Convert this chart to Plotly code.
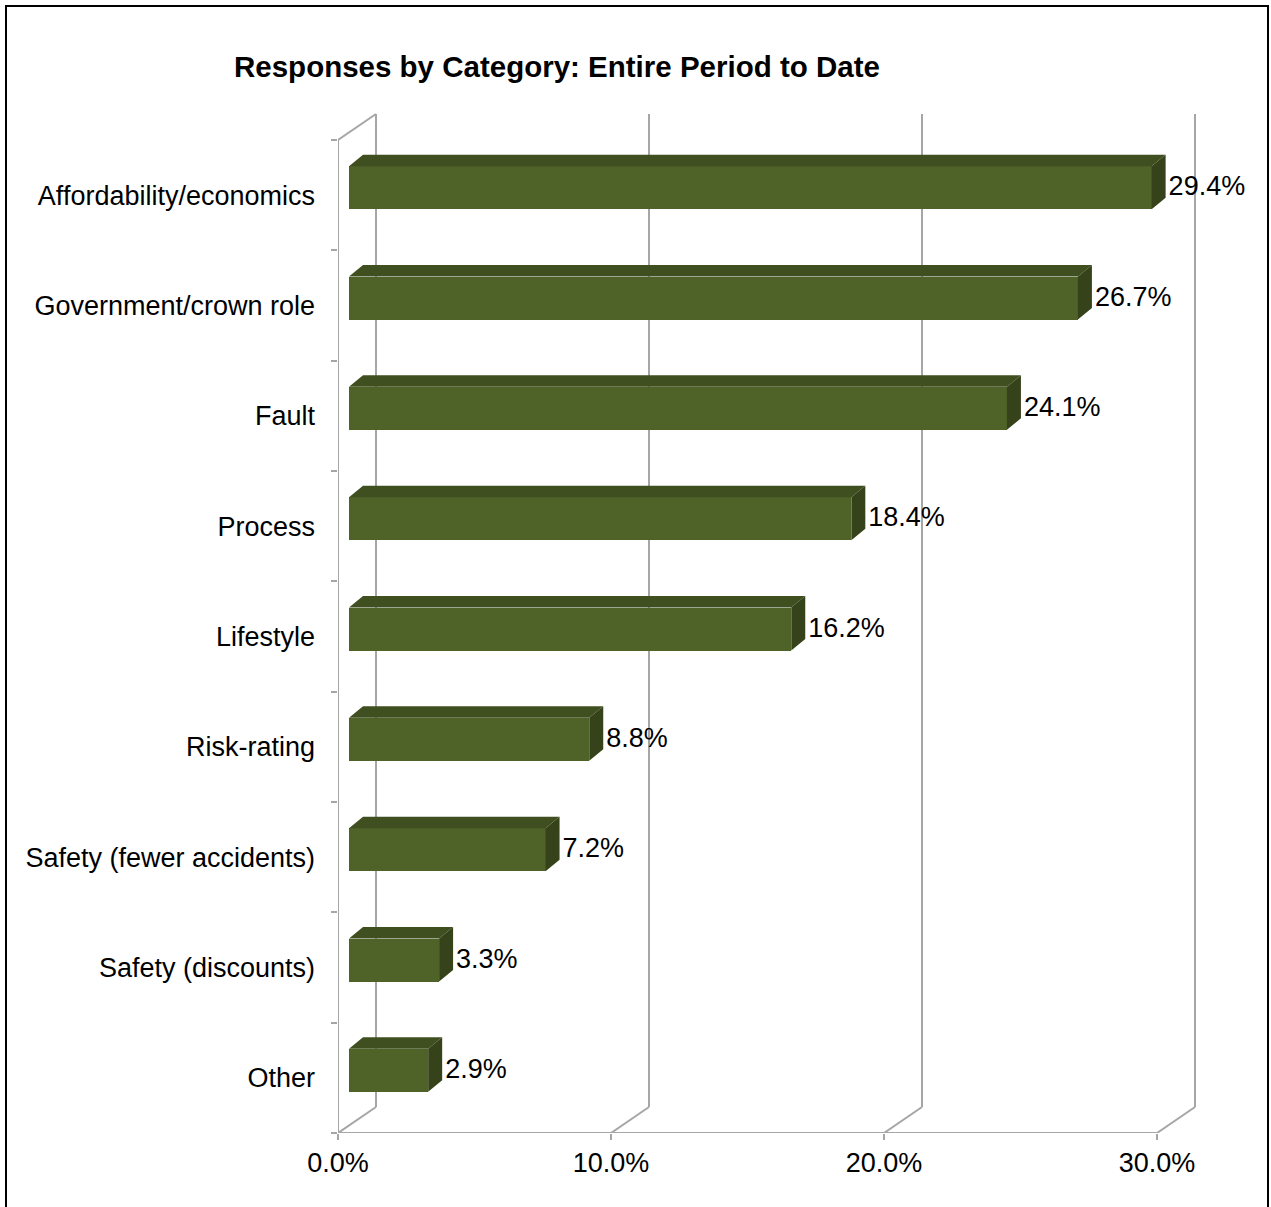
import plotly.graph_objects as go

# ---- data ----
categories = ["Other", "Safety (discounts)", "Safety (fewer accidents)", "Risk-rating",
              "Lifestyle", "Process", "Fault", "Government/crown role", "Affordability/economics"]
values = [2.9, 3.3, 7.2, 8.8, 16.2, 18.4, 24.1, 26.7, 29.4]
x_ticks = [0, 10, 20, 30]
x_tick_labels = ["0.0%", "10.0%", "20.0%", "30.0%"]
title_text = "Responses by Category: Entire Period to Date"

# ---- geometry (pixel based style constants) ----
W, H = 1271, 1207
ML, MT, MB = 338, 106, 74
PW, PH = 874, H - MT - MB
PX_X = 27.3      # px per 1%
PX_Y = 110.33    # px per category band
MR = W - ML - PW

def dx(px):
    return px / PX_X

def dy(px):
    return px / PX_Y

WALL_DX, WALL_DY = dx(38), dy(26)
BAR_OFF_X, BAR_OFF_Y = dx(11), dy(7.5)
BAR_H = dy(43)
BAR_DX, BAR_DY = dx(14), dy(11.5)

FONT = "Arial, 'Liberation Sans', sans-serif"
FS = 27
GRID = "#A6A6A6"
FRONT = "#4F6228"
TOP = "#404F20"
SIDE = "#36431A"

n = len(categories)
centers = [i + 0.5 for i in range(n)]

fig = go.Figure()

# back wall, floor and front axis lines (drawn below the bars)
shapes = []
def seg(x0, y0, x1, y1):
    shapes.append(dict(type="line", xref="x", yref="y", x0=x0, y0=y0, x1=x1, y1=y1,
                       line=dict(color=GRID, width=2), layer="below"))
for t in x_ticks:
    seg(t, 0, t + WALL_DX, WALL_DY)
    seg(t + WALL_DX, WALL_DY, t + WALL_DX, n + WALL_DY)
seg(0, 0, x_ticks[-1], 0)
seg(0, 0, 0, n)
seg(0, n, WALL_DX, n + WALL_DY)

# front faces (bars)
fig.add_trace(go.Bar(x=values, y=[c + BAR_OFF_Y for c in centers], base=BAR_OFF_X,
                     orientation="h", width=BAR_H, marker=dict(color=FRONT, line=dict(width=0)),
                     showlegend=False, hoverinfo="skip"))

# top and side faces
tx, ty, sx, sy = [], [], [], []
for c, v in zip(centers, values):
    yc = c + BAR_OFF_Y
    top = yc + BAR_H / 2
    bot = yc - BAR_H / 2
    x0 = BAR_OFF_X
    x1 = BAR_OFF_X + v
    tx += [x0, x1, x1 + BAR_DX, x0 + BAR_DX, x0, None]
    ty += [top, top, top + BAR_DY, top + BAR_DY, top, None]
    sx += [x1, x1 + BAR_DX, x1 + BAR_DX, x1, x1, None]
    sy += [top, top + BAR_DY, bot + BAR_DY, bot, top, None]
fig.add_trace(go.Scatter(x=tx, y=ty, mode="lines", fill="toself", fillcolor=TOP,
                         line=dict(width=0, color=TOP), hoverinfo="skip", showlegend=False))
fig.add_trace(go.Scatter(x=sx, y=sy, mode="lines", fill="toself", fillcolor=SIDE,
                         line=dict(width=0, color=SIDE), hoverinfo="skip", showlegend=False))

# data labels
fig.add_trace(go.Scatter(x=[BAR_OFF_X + v + BAR_DX + dx(3) for v in values],
                         y=[c + BAR_OFF_Y - dy(1) for c in centers],
                         mode="text", text=[f"{v:.1f}%" for v in values],
                         textposition="middle right", cliponaxis=False,
                         textfont=dict(family=FONT, size=FS, color="#000000"),
                         hoverinfo="skip", showlegend=False))

# invisible trace for the tick-only axis
fig.add_trace(go.Scatter(x=[0], y=[0], yaxis="y2", mode="markers", marker=dict(opacity=0),
                         hoverinfo="skip", showlegend=False))

shapes.append(dict(type="rect", xref="paper", yref="paper",
                   x0=(6 - ML) / PW, x1=(1268 - ML) / PW,
                   y0=(H - MB - 1220) / PH, y1=(H - MB - 6) / PH,
                   line=dict(color="#000000", width=2), fillcolor="rgba(0,0,0,0)", layer="above"))

yr = [0, PH / PX_Y]
fig.update_layout(
    width=W, height=H,
    margin=dict(l=ML, r=MR, t=MT, b=MB, pad=0),
    paper_bgcolor="white", plot_bgcolor="white",
    font=dict(family=FONT, size=FS, color="#000000"),
    xaxis=dict(range=[0, PW / PX_X], tickvals=x_ticks, ticktext=x_tick_labels,
               showgrid=False, zeroline=False, showline=False,
               ticks="outside", ticklen=6, tickwidth=2, tickcolor=GRID,
               tickfont=dict(family=FONT, size=FS, color="#000000")),
    yaxis=dict(range=yr, tickvals=centers, ticktext=categories, ticks="",
               showgrid=False, zeroline=False, showline=False, ticklabelstandoff=22,
               tickfont=dict(family=FONT, size=FS, color="#000000")),
    yaxis2=dict(range=yr, overlaying="y", side="left", tickvals=list(range(n + 1)),
                showticklabels=False, ticks="outside", ticklen=6, tickwidth=2,
                tickcolor=GRID, showgrid=False, zeroline=False, showline=False),
    bargap=0,
    annotations=[dict(text=f"<b>{title_text}</b>", xref="paper", yref="paper",
                      x=(232 - ML) / PW, y=(H - MB - 66) / PH, xanchor="left", yanchor="middle",
                      showarrow=False, font=dict(family=FONT, size=29.5, color="#000000"))],
    shapes=shapes,
)

fig.write_html("out.html")
